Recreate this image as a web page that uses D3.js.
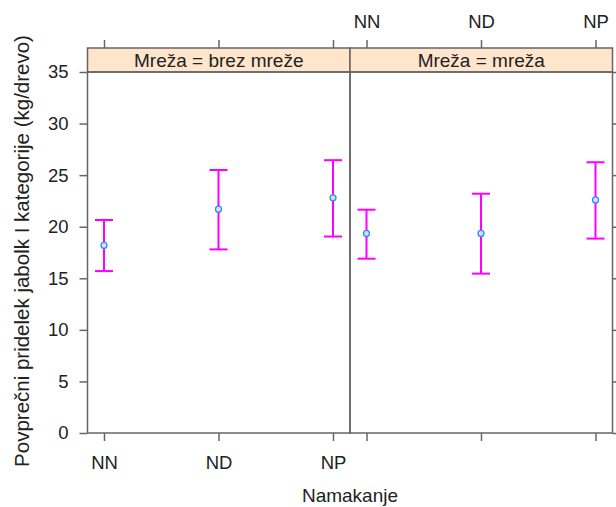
<!DOCTYPE html>
<html><head><meta charset="utf-8">
<script src="https://cdn.jsdelivr.net/npm/d3@7"></script>
<style>body{margin:0;background:#fff}svg{display:block}text{font-family:"Liberation Sans",Arial,sans-serif;fill:#222}</style>
</head><body><svg id="c" width="616" height="507"></svg>
<script>
const categories = ["NN","ND","NP"];
const panels = ["Mreža = brez mreže","Mreža = mreža"];
const means = [[18.2,21.7,22.8],[19.35,19.35,22.6]];
const lower = [[15.7,17.8,19.05],[16.9,15.45,18.85]];
const upper = [[20.65,25.5,26.45],[21.65,23.2,26.25]];
const yTicks = [0,5,10,15,20,25,30,35];
const xTitle = "Namakanje";
const yTitle = "Povprečni pridelek jabolk I kategorije (kg/drevo)";

const svg = d3.select("#c");
const border = "#666";
const panelX = [87.5, 350];
const panelW = 262.5;
const pTop = 72, pBottom = 433, stripTop = 48;
const tickFont = "18.5px";
const y = d3.scaleLinear().domain([0,35]).range([pBottom, pTop]);

panels.forEach((name, p) => {
  const x0 = panelX[p];
  const x = d3.scalePoint().domain(categories).range([x0+16.5, x0+245.5]);
  const g = svg.append("g");
  g.append("rect").attr("x",x0).attr("y",stripTop).attr("width",panelW).attr("height",pTop-stripTop)
    .attr("fill","#ffe5cc").attr("stroke",border).attr("stroke-width",1.5);
  g.append("text").attr("x",x0+panelW/2).attr("y",(stripTop+pTop)/2).attr("dy","0.35em")
    .attr("text-anchor","middle").style("font-size","19px").text(name);
  g.append("rect").attr("x",x0).attr("y",pTop).attr("width",panelW).attr("height",pBottom-pTop)
    .attr("fill","none").attr("stroke",border).attr("stroke-width",1.5);
  const bx = d3.axisBottom(x).tickSize(8).tickPadding(15).tickFormat(p===0?(d=>d):(()=>""));
  const ga = g.append("g").attr("transform",`translate(0,${pBottom})`).call(bx);
  const tx = d3.axisTop(x).tickSize(8).tickPadding(12).tickFormat(p===1?(d=>d):(()=>""));
  const gt = g.append("g").attr("transform",`translate(0,${stripTop})`).call(tx);
  [ga,gt].forEach(a=>{a.select(".domain").remove();a.selectAll("line").attr("stroke",border).attr("stroke-width",1.5);
    a.selectAll("text").style("font-size",tickFont).attr("fill","#222").style("font-family","Liberation Sans, Arial, sans-serif");});
  if (p===0){
    const ay = d3.axisLeft(y).tickValues(yTicks).tickSize(8).tickPadding(11);
    const gy = g.append("g").attr("transform",`translate(${x0},0)`).call(ay);
    gy.select(".domain").remove();
    gy.selectAll("line").attr("stroke",border).attr("stroke-width",1.5);
    gy.selectAll("text").style("font-size",tickFont).attr("fill","#222").style("font-family","Liberation Sans, Arial, sans-serif");
  } else {
    const ay = d3.axisRight(y).tickValues(yTicks).tickSize(8).tickFormat(()=> "");
    const gy = g.append("g").attr("transform",`translate(${x0+panelW},0)`).call(ay);
    gy.select(".domain").remove();
    gy.selectAll("line").attr("stroke",border).attr("stroke-width",1.5);
  }
  categories.forEach((c,i)=>{
    const cx = x(c);
    const eg = g.append("g").attr("stroke","#ff00ff").attr("stroke-width",2);
    eg.append("line").attr("x1",cx).attr("x2",cx).attr("y1",y(lower[p][i])).attr("y2",y(upper[p][i]));
    eg.append("line").attr("x1",cx-9).attr("x2",cx+9).attr("y1",y(lower[p][i])).attr("y2",y(lower[p][i]));
    eg.append("line").attr("x1",cx-9).attr("x2",cx+9).attr("y1",y(upper[p][i])).attr("y2",y(upper[p][i]));
    g.append("circle").attr("cx",cx).attr("cy",y(means[p][i])).attr("r",3)
      .attr("fill","#cfe6ff").attr("stroke","#3388ff").attr("stroke-width",1.3);
  });
});

svg.append("text").attr("x",(panelX[0]+panelX[1]+panelW)/2).attr("y",495).attr("dy","0.35em")
  .attr("text-anchor","middle").style("font-size","19px").text(xTitle);
svg.append("text").attr("transform","translate(21.5,251) rotate(-90)").attr("dy","0.35em")
  .attr("text-anchor","middle").style("font-size","20.5px").text(yTitle);
</script></body></html>
